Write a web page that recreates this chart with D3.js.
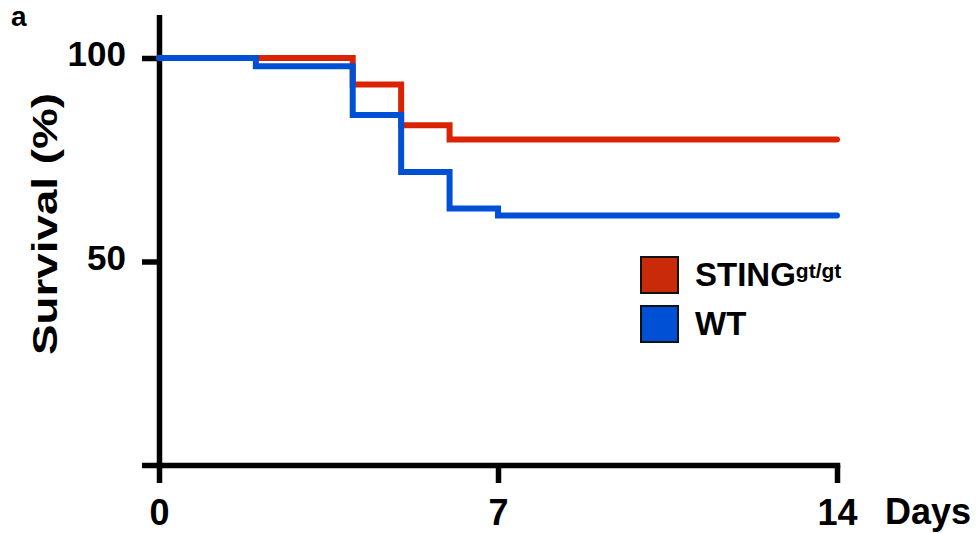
<!DOCTYPE html>
<html lang="en">
    <head>
        <meta charset="utf-8">
        <title>Survival - STING gt/gt vs WT</title>
        <style>
            body { margin: 0; background: #fff; }
            svg text {
                font-family: "Liberation Sans", Arial, Helvetica, sans-serif;
                font-weight: bold;
                fill: #000;
            }
            .axis path, .axis line {
                stroke: #000;
                stroke-width: 5.5px;
            }
            .axis .domain { stroke-linecap: square; }
            .curve {
                fill: none;
                stroke-width: 6px;
                stroke-linecap: round;
                stroke-linejoin: miter;
            }
        </style>
    </head>
    <body>
        <script src="https://d3js.org/d3.v7.min.js"></script>
        <script type="text/javascript">

            // survival data (day, %)
            var stingDays   = [0, 4, 5, 6, 14],
                stingValues = [100, 93.5, 83.5, 80, 80];

            var wtDays   = [0, 2, 4, 5, 6, 7, 14],
                wtValues = [100, 98, 86, 72, 63, 61.3, 61.3];

            var xTicks = [0, 7, 14],
                yTicks = [0, 50, 100],
                yTickLabels = ["", "50", "100"];

            var seriesNames  = ["STING", "WT"],
                seriesColors = ["#d92303", "#0050d6"],
                legendFills  = ["#c92a0a", "#0050d6"];

            var width = 976, height = 533;

            var svg = d3.select("body")
                        .append("svg")
                        .attr("width", width)
                        .attr("height", height);

            var xScale = d3.scaleLinear()
                            .domain([0, 14])
                            .range([159, 837]);

            var yScale = d3.scaleLinear()
                            .domain([0, 100])
                            .range([465, 58]);

            // y axis line runs a bit above 100
            var yAxisScale = yScale.copy()
                            .domain([0, 110])
                            .range([465, yScale(110)]);

            // x axis
            svg.append("g")
                .attr("class", "axis")
                .attr("transform", "translate(0," + yScale(0) + ")")
                .call(d3.axisBottom(xScale)
                        .tickValues(xTicks)
                        .tickSize(18)
                        .tickSizeOuter(0)
                        .tickPadding(15))
                .call(g => g.selectAll("text")
                        .style("font-size", "36px")
                        .attr("dy", "0.74em"));

            // y axis
            svg.append("g")
                .attr("class", "axis")
                .attr("transform", "translate(" + xScale(0) + ",0)")
                .call(d3.axisLeft(yAxisScale)
                        .tickValues(yTicks)
                        .tickFormat((d, i) => yTickLabels[i])
                        .tickSize(17)
                        .tickSizeOuter(0)
                        .tickPadding(16))
                .call(g => g.selectAll("text")
                        .style("font-size", "35px")
                        .attr("dy", "0.22em"));

            svg.selectAll(".axis text").style("font-family", "'Liberation Sans', Arial, sans-serif");

            // curves
            var line = d3.line()
                .x(d => xScale(d.day))
                .y(d => yScale(d.value))
                .curve(d3.curveStepAfter);

            var series = [
                stingDays.map((d, i) => ({day: d, value: stingValues[i]})),
                wtDays.map((d, i) => ({day: d, value: wtValues[i]}))
            ];

            svg.selectAll(".curve")
                .data(series)
                .enter().append("path")
                .attr("class", "curve")
                .attr("stroke", (d, i) => seriesColors[i])
                .attr("d", line);

            // labels
            svg.append("text")
                .attr("x", xScale(14) + 48)
                .attr("y", 524)
                .style("font-size", "36px")
                .text("Days");

            svg.append("text")
                .attr("transform", "translate(57," + 224 + ") rotate(-90)")
                .attr("text-anchor", "middle")
                .attr("textLength", 262)
                .attr("lengthAdjust", "spacingAndGlyphs")
                .style("font-size", "35px")
                .text("Survival (%)");

            svg.append("text")
                .attr("x", 11)
                .attr("y", 26)
                .style("font-size", "28px")
                .text("a");

            // legend
            var legend = svg.append("g")
                .attr("transform", "translate(641,257)");

            var items = legend.selectAll("g")
                .data(seriesNames)
                .enter().append("g")
                .attr("transform", (d, i) => "translate(0," + i * 49 + ")");

            items.append("rect")
                .attr("width", 37)
                .attr("height", 36)
                .attr("fill", (d, i) => legendFills[i])
                .attr("stroke", "#111")
                .attr("stroke-width", 2);

            var labels = items.append("text")
                .attr("x", 54)
                .attr("y", 29)
                .style("font-size", "33px");

            labels.append("tspan").text(d => d);
            labels.filter(d => d === "STING")
                .append("tspan")
                .attr("dy", "-0.36em")
                .style("font-size", "21px")
                .text("gt/gt");

        </script>
    </body>
</html>
